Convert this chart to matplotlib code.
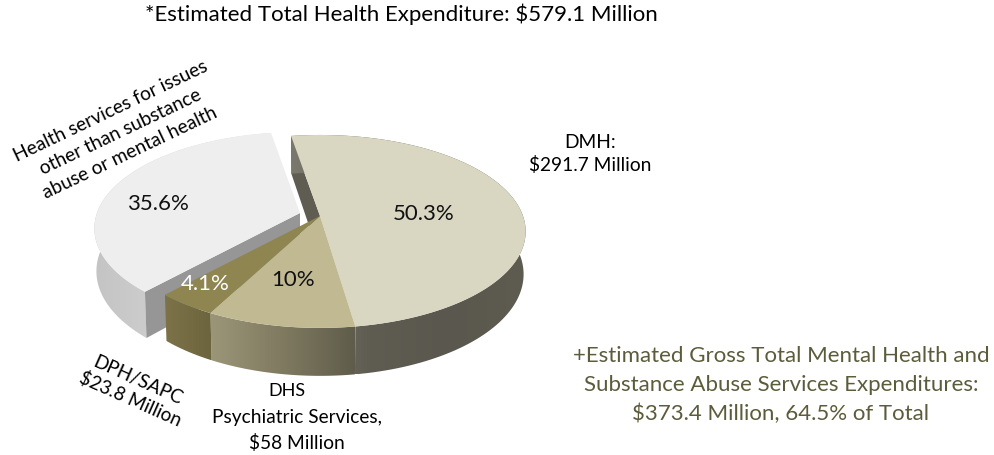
import numpy as np
import matplotlib
matplotlib.use('Agg')
import matplotlib.pyplot as plt
from matplotlib.colors import LinearSegmentedColormap
from matplotlib.patches import Polygon

# slice shares, clockwise from the first one
names = ['DMH', 'DHS', 'DPH/SAPC', 'Other']
shares = [50.3, 10, 4.1, 35.6]
share_labels = ['50.3%', '10%', '4.1%', '35.6%']
top_colors = ['#d9d7c2', '#c0b992', '#8f8550', '#eeeeee']
# colours of the outer wall, left to right
wall_colors = [['#7b786e', '#5f5c52', '#5a574e', '#5e5b50'],
               ['#9c9679', '#7f7a60', '#5f5c4b'],
               ['#7d7349', '#6c643d'],
               ['#c4c4c4', '#d2d2d2', '#e4e4e4']]

plt.rcParams['font.family'] = ['Lato', 'DejaVu Sans']

fig = plt.figure(figsize=(9.95, 4.55), dpi=100)
ax = fig.add_axes([0, 0, 1, 1])

# pie projection, in pixels of the picture
cx, cy = 320, 216
A, B, k = 203, 94, 0.16
start = -9.5
explode = (-20, -3)
depth = 42


def top_xy(ang, off=(0, 0)):
    a = np.radians(ang)
    u, v = np.sin(a), np.cos(a)
    return np.c_[cx + off[0] + A * u / (1 + k * v),
                 cy + off[1] - B * v / (1 + k * v)]


def bottom_xy(ang, off=(0, 0)):
    a = np.radians(ang)
    u, v = np.sin(a), np.cos(a)
    return np.c_[cx + off[0] + 0.99 * A * u / (1 + k * v),
                 cy + depth + off[1] - 99 * v / (1 + k * v)]


def gradient_wall(pts, colors, z):
    poly = Polygon(pts, closed=True, fc='none', ec='none', zorder=z)
    ax.add_patch(poly)
    cm = LinearSegmentedColormap.from_list('w', colors)
    x0, x1 = pts[:, 0].min(), pts[:, 0].max()
    y0, y1 = pts[:, 1].min(), pts[:, 1].max()
    im = ax.imshow(np.linspace(0, 1, 256)[None, :], cmap=cm, aspect='auto',
                   extent=[x0, x1, y1, y0], zorder=z)
    im.set_clip_path(poly)


edges = start + np.cumsum([0] + shares) * 3.6
offs = [(0, 0), (0, 0), (0, 0), explode]

# exploded slice first, it sits behind everything else
a1, a2 = edges[3], edges[4]
angs = np.linspace(a1, a2, 120)
off = offs[3]
wall = np.vstack([top_xy(angs, off), bottom_xy(angs, off)[::-1]])
face = np.vstack([top_xy(np.array([a1]), off), [[cx + off[0], cy + off[1]]],
                  [[cx + off[0], cy + off[1] + depth]], bottom_xy(np.array([a1]), off)])
gradient_wall(wall, wall_colors[3], 1)
ax.add_patch(Polygon(face, closed=True, fc='#969696', ec='none', zorder=2))
ax.add_patch(Polygon(np.vstack([[[cx + off[0], cy + off[1]]], top_xy(angs, off)]),
                     closed=True, fc=top_colors[3], ec='none', zorder=3))

# back cut face of the first slice, seen through the gap
back = np.vstack([top_xy(np.array([edges[0]])), [[cx, cy]], [[cx, cy + depth]],
                  bottom_xy(np.array([edges[0]]))])
ax.add_patch(Polygon(back, closed=True, fc='#5f5c52', ec='none', zorder=4))

for i in range(3):
    angs = np.linspace(edges[i], edges[i + 1], 120)
    wall = np.vstack([top_xy(angs), bottom_xy(angs)[::-1]])
    gradient_wall(wall, wall_colors[i], 5)
for i in range(3):
    angs = np.linspace(edges[i], edges[i + 1], 120)
    ax.add_patch(Polygon(np.vstack([[[cx, cy]], top_xy(angs)]), closed=True,
                         fc=top_colors[i], ec='none', zorder=6))

ax.set_xlim(0, 995)
ax.set_ylim(455, 0)
ax.axis('off')

fs = 16
ax.text(424, 214, share_labels[0], ha='center', va='center', fontsize=fs, color='#111111', zorder=8)
ax.text(293, 280, share_labels[1], ha='center', va='center', fontsize=fs, color='#111111', zorder=8)
ax.text(205, 284, share_labels[2], ha='center', va='center', fontsize=fs, color='white', zorder=8)
ax.text(158, 204, share_labels[3], ha='center', va='center', fontsize=fs, color='#111111', zorder=8)

ax.text(401, 14, '*Estimated Total Health Expenditure: $579.1 Million', ha='center', va='center', fontsize=16)
ax.text(590, 142, 'DMH:', ha='center', va='center', fontsize=13.8)
ax.text(590, 165, '$291.7 Million', ha='center', va='center', fontsize=13.8)
ax.text(120, 132, 'Health services for issues\nother than substance\nabuse or mental health',
        ha='center', va='center', fontsize=13.8, rotation=25.5, linespacing=1.42, multialignment='center')
ax.text(134, 390, 'DPH/SAPC\n$23.8 Million', ha='center', va='center', fontsize=13.6,
        rotation=-24, linespacing=1.15, multialignment='center')
ax.text(287, 391, 'DHS', ha='center', va='center', fontsize=13)
ax.text(297, 417, 'Psychiatric Services,', ha='center', va='center', fontsize=13.8)
ax.text(297, 443, '$58 Million', ha='center', va='center', fontsize=13.8)
olive = '#5c5c3c'
ax.text(781, 356, '+Estimated Gross Total Mental Health and', ha='center', va='center', fontsize=16, color=olive)
ax.text(781, 385, 'Substance Abuse Services Expenditures:', ha='center', va='center', fontsize=16, color=olive)
ax.text(781, 414, '$373.4 Million, 64.5% of Total', ha='center', va='center', fontsize=16, color=olive)

fig.savefig('out.png', dpi=100)
